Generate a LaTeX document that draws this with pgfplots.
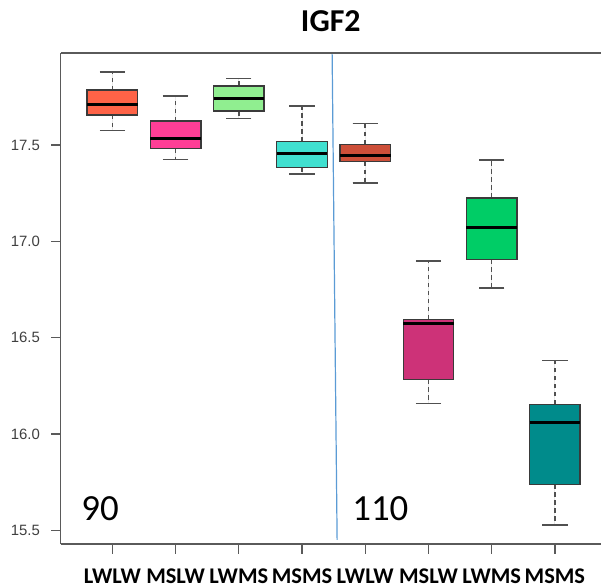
\documentclass[border=0pt]{standalone}
\usepackage{pgfplots}
\pgfplotsset{compat=1.18}
\usepgfplotslibrary{statistics}
\usepackage{fontspec}
\setmainfont{Carlito}
\newfontfamily\arialf{Liberation Sans}
\definecolor{c1}{HTML}{FF6347}
\definecolor{c2}{HTML}{FF3E96}
\definecolor{c3}{HTML}{90EE90}
\definecolor{c4}{HTML}{40E0D0}
\definecolor{c5}{HTML}{CD4F39}
\definecolor{c6}{HTML}{CD3278}
\definecolor{c7}{HTML}{00CD66}
\definecolor{c8}{HTML}{008B8B}
\definecolor{axgray}{HTML}{5A5A5A}
\definecolor{boxgray}{HTML}{3A3A3A}
\definecolor{wgray}{HTML}{505050}
\definecolor{ylab}{HTML}{404040}
\definecolor{divblue}{HTML}{5B9BD5}
\pgfplotsset{
  mybox/.style={
    boxplot/draw direction=y,
    boxplot/box extend=0.8,
    boxplot/whisker extend=0.4,
    draw=boxgray, line width=1.3bp,
    boxplot/every median/.style={draw=black, line width=3bp},
    boxplot/draw/lower whisker/.code={%
      \draw[wgray, line width=1.6bp, dash pattern=on 4.5bp off 3.5bp]
        (boxplot cs:\pgfplotsboxplotvalue{lower quartile},0) --
        (boxplot cs:\pgfplotsboxplotvalue{lower whisker},0);
      \draw[wgray, line width=1.4bp, solid]
        (boxplot whisker cs:\pgfplotsboxplotvalue{lower whisker},0) --
        (boxplot whisker cs:\pgfplotsboxplotvalue{lower whisker},1);
    },
    boxplot/draw/upper whisker/.code={%
      \draw[wgray, line width=1.6bp, dash pattern=on 4.5bp off 3.5bp]
        (boxplot cs:\pgfplotsboxplotvalue{upper quartile},0) --
        (boxplot cs:\pgfplotsboxplotvalue{upper whisker},0);
      \draw[wgray, line width=1.4bp, solid]
        (boxplot whisker cs:\pgfplotsboxplotvalue{upper whisker},0) --
        (boxplot whisker cs:\pgfplotsboxplotvalue{upper whisker},1);
    },
  }
}
\begin{document}
\begin{tikzpicture}
\useasboundingbox (-60.6bp,-44bp) rectangle (540.4bp,544bp);
\begin{axis}[
  at={(0,0)}, anchor=south west,
  scale only axis, width=540.4bp, height=491bp,
  xmin=0.18, xmax=8.73, ymin=15.43, ymax=17.977,
  axis x line*=bottom, axis y line*=left,
  axis line style={draw=axgray, line width=1.3bp},
  xtick={1,2,3,4,5,6,7,8},
  xticklabels={LWLW,MSLW,LWMS,MSMS,LWLW,MSLW,LWMS,MSMS},
  ytick={15.5,16,16.5,17,17.5},
  yticklabels={15.5,16.0,16.5,17.0,17.5},
  tick align=outside, major tick length=9.5bp,
  tick style={draw=axgray, line width=1.3bp},
  xticklabel style={font=\fontsize{22.5}{22.5}\selectfont\bfseries, text=black, inner sep=0pt, anchor=base, yshift=-30bp},
  yticklabel style={font=\arialf\fontsize{15}{15}\selectfont, text=ylab, inner sep=0pt, anchor=east, xshift=-11bp},
  clip=false,
]
\addplot[mybox, fill=c1, boxplot prepared={lower whisker=17.574, lower quartile=17.656, median=17.709, upper quartile=17.785, upper whisker=17.879, draw position=1}] coordinates {};
\addplot[mybox, fill=c2, boxplot prepared={lower whisker=17.426, lower quartile=17.481, median=17.535, upper quartile=17.624, upper whisker=17.754, draw position=2}] coordinates {};
\addplot[mybox, fill=c3, boxplot prepared={lower whisker=17.638, lower quartile=17.676, median=17.740, upper quartile=17.806, upper whisker=17.846, draw position=3}] coordinates {};
\addplot[mybox, fill=c4, boxplot prepared={lower whisker=17.350, lower quartile=17.384, median=17.455, upper quartile=17.517, upper whisker=17.702, draw position=4}] coordinates {};
\addplot[mybox, fill=c5, boxplot prepared={lower whisker=17.303, lower quartile=17.414, median=17.443, upper quartile=17.503, upper whisker=17.611, draw position=5}] coordinates {};
\addplot[mybox, fill=c6, boxplot prepared={lower whisker=16.160, lower quartile=16.285, median=16.573, upper quartile=16.596, upper whisker=16.897, draw position=6}] coordinates {};
\addplot[mybox, fill=c7, boxplot prepared={lower whisker=16.757, lower quartile=16.907, median=17.070, upper quartile=17.225, upper whisker=17.421, draw position=7}] coordinates {};
\addplot[mybox, fill=c8, boxplot prepared={lower whisker=15.528, lower quartile=15.740, median=16.062, upper quartile=16.155, upper whisker=16.383, draw position=8}] coordinates {};
\addplot[divblue, line width=1.2bp, no marks] coordinates {(4.476,17.977) (4.555,15.451)};
\draw[axgray, line width=1.3bp] (rel axis cs:0,1) -- (rel axis cs:1,1);
\node[anchor=base, font=\fontsize{32}{32}\selectfont\bfseries, inner sep=0pt] at ([yshift=21.3bp]rel axis cs:0.5,1) {IGF2};
\node[anchor=base west, inner sep=0pt, font=\fontsize{37}{37}\selectfont] at (axis cs:0.505,15.551) {90};
\node[anchor=base west, inner sep=0pt, font=\fontsize{37}{37}\selectfont] at (axis cs:4.793,15.551) {110};
\end{axis}
\end{tikzpicture}
\end{document}
